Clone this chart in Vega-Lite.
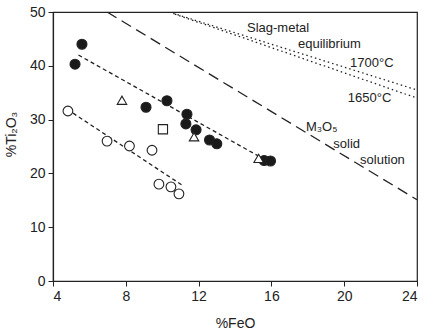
{
  "$schema": "https://vega.github.io/schema/vega-lite/v6.json",
  "autosize": "none",
  "width": 364,
  "height": 269,
  "padding": {"left": 53, "top": 12, "right": 8, "bottom": 48},
  "background": "white",
  "config": {
    "font": "Liberation Sans",
    "view": {"stroke": "#222", "strokeWidth": 1.2},
    "axis": {"grid": false, "domainColor": "#222", "tickColor": "#222", "labelColor": "#222", "titleColor": "#222", "labelFontSize": 14, "titleFontSize": 14, "titleFontWeight": "normal", "tickSize": 5, "labelPadding": 3, "domainWidth": 1.2}
  },
  "datasets": {
    "pts": [
      {"feo": 5.21, "ti": 40.3, "kind": "filled"},
      {"feo": 5.59, "ti": 44.0, "kind": "filled"},
      {"feo": 9.11, "ti": 32.3, "kind": "filled"},
      {"feo": 10.26, "ti": 33.5, "kind": "filled"},
      {"feo": 11.36, "ti": 31.0, "kind": "filled"},
      {"feo": 11.3, "ti": 29.2, "kind": "filled"},
      {"feo": 11.86, "ti": 28.1, "kind": "filled"},
      {"feo": 12.6, "ti": 26.2, "kind": "filled"},
      {"feo": 13.0, "ti": 25.5, "kind": "filled"},
      {"feo": 15.6, "ti": 22.4, "kind": "filled"},
      {"feo": 15.95, "ti": 22.3, "kind": "filled"},
      {"feo": 4.82, "ti": 31.6, "kind": "open"},
      {"feo": 6.97, "ti": 26.0, "kind": "open"},
      {"feo": 8.2, "ti": 25.1, "kind": "open"},
      {"feo": 9.44, "ti": 24.3, "kind": "open"},
      {"feo": 9.82, "ti": 18.0, "kind": "open"},
      {"feo": 10.48, "ti": 17.5, "kind": "open"},
      {"feo": 10.92, "ti": 16.2, "kind": "open"},
      {"feo": 7.79, "ti": 33.6, "kind": "triangle"},
      {"feo": 11.75, "ti": 26.8, "kind": "triangle"},
      {"feo": 15.3, "ti": 22.8, "kind": "triangle"},
      {"feo": 10.04, "ti": 28.2, "kind": "square"}
    ],
    "lines": [
      {"line": "filledfit", "style": "short", "feo": 5.4, "ti": 42.0},
      {"line": "filledfit", "style": "short", "feo": 15.3, "ti": 23.2},
      {"line": "openfit", "style": "short", "feo": 5.1, "ti": 31.2},
      {"line": "openfit", "style": "short", "feo": 11.1, "ti": 17.8},
      {"line": "m3o5", "style": "long", "feo": 6.97, "ti": 50.0},
      {"line": "m3o5", "style": "long", "feo": 24.0, "ti": 15.1},
      {"line": "t1700", "style": "dot", "feo": 10.37, "ti": 50.0},
      {"line": "t1700", "style": "dot", "feo": 24.0, "ti": 35.5},
      {"line": "t1650", "style": "dot", "feo": 10.7, "ti": 49.6},
      {"line": "t1650", "style": "dot", "feo": 24.0, "ti": 34.0}
    ],
    "labels": [
      {"feo": 14.66, "ti": 47.0, "text": "Slag-metal"},
      {"feo": 17.46, "ti": 44.05, "text": "equilibrium"},
      {"feo": 20.32, "ti": 40.5, "text": "1700°C"},
      {"feo": 20.2, "ti": 34.0, "text": "1650°C"},
      {"feo": 17.9, "ti": 28.6, "text": "M₃O₅"},
      {"feo": 19.4, "ti": 25.5, "text": "solid"},
      {"feo": 20.87, "ti": 22.5, "text": "solution"}
    ]
  },
  "layer": [
    {
      "data": {"name": "lines"},
      "mark": {"type": "line", "color": "#222", "strokeWidth": 1.3, "clip": true},
      "encoding": {
        "x": {"field": "feo", "type": "quantitative", "scale": {"domain": [4, 24]}, "axis": {"values": [4, 8, 12, 16, 20, 24], "title": "%FeO", "titleY": 35, "titleBaseline": "top"}},
        "y": {"field": "ti", "type": "quantitative", "scale": {"domain": [0, 50]}, "axis": {"values": [0, 10, 20, 30, 40, 50], "title": "%Ti₂O₃", "titleX": -35, "titleY": 122}},
        "detail": {"field": "line"},
        "strokeDash": {"field": "style", "type": "nominal", "scale": {"domain": ["short", "long", "dot"], "range": [[4, 3], [11, 6], [1.5, 3]]}, "legend": null}
      }
    },
    {
      "data": {"name": "pts"},
      "mark": {"type": "point", "strokeWidth": 1.1, "opacity": 1},
      "encoding": {
        "x": {"field": "feo", "type": "quantitative"},
        "y": {"field": "ti", "type": "quantitative"},
        "shape": {"field": "kind", "type": "nominal", "scale": {"domain": ["filled", "open", "triangle", "square"], "range": ["circle", "circle", "triangle-up", "square"]}, "legend": null},
        "fill": {"field": "kind", "type": "nominal", "scale": {"domain": ["filled", "open", "triangle", "square"], "range": ["#1a1a1a", "white", "white", "white"]}, "legend": null},
        "stroke": {"value": "#222"},
        "size": {"field": "kind", "type": "nominal", "scale": {"domain": ["filled", "open", "triangle", "square"], "range": [100, 85, 120, 75]}, "legend": null}
      }
    },
    {
      "data": {"name": "labels"},
      "mark": {"type": "text", "align": "left", "baseline": "middle", "fontSize": 13, "color": "#222"},
      "encoding": {
        "x": {"field": "feo", "type": "quantitative"},
        "y": {"field": "ti", "type": "quantitative"},
        "text": {"field": "text"}
      }
    }
  ]
}
